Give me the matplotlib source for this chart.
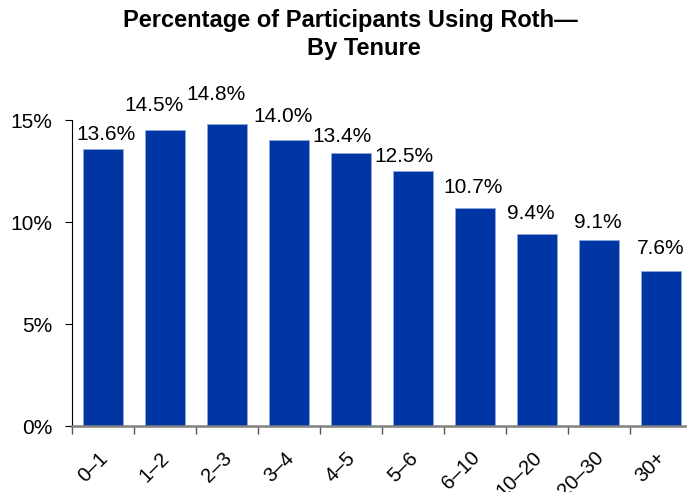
import matplotlib.pyplot as plt
from matplotlib.ticker import FuncFormatter
from matplotlib.transforms import ScaledTranslation

plt.rcParams['font.family'] = ['Liberation Sans', 'DejaVu Sans']

tenure = ["0–1", "1–2", "2–3", "3–4", "4–5", "5–6", "6–10", "10–20", "20–30", "30+"]
roth_pct = [13.6, 14.5, 14.8, 14.0, 13.4, 12.5, 10.7, 9.4, 9.1, 7.6]

# label nudges (pixels) so the value labels don't crowd each other
label_dx = [2.5, -11, -11, -6, -9, -9.5, -2, -6, -1, 0]
label_dy = [9, 19, 24, 18, 11, 9, 15, 15, 12, 17]

BLUE = "#0036A3"

fig = plt.figure(figsize=(6.87, 4.92), dpi=100)
ax = fig.add_axes([72 / 687, 66 / 492, (692 - 72) / 687, (426 - 120) / 492])

x = range(len(tenure))
ax.bar(x, roth_pct, width=0.66, color=BLUE, edgecolor="#8FA8E0", linewidth=0.6, clip_on=False)

for i, v in enumerate(roth_pct):
    ax.annotate(f"{v:.1f}%", (i, v), xytext=(label_dx[i], label_dy[i]),
                textcoords="offset pixels", ha="center", va="baseline", fontsize=15)

ax.set_xlim(-0.5, 9.5)
ax.set_ylim(0, 15)
ax.set_yticks([0, 5, 10, 15])
ax.yaxis.set_major_formatter(FuncFormatter(lambda v, p: f"{v:.0f}%"))
ax.tick_params(axis="y", labelsize=15, length=5, width=0.8, direction="out", colors="black", pad=9)

# ticks sit on category boundaries, labels under each bar
ax.set_xticks([i - 0.5 for i in x])
ax.set_xticklabels([])
ax.set_xticks(list(x), minor=True)
ax.set_xticklabels(tenure, minor=True, rotation=45, ha="right", va="top",
                   rotation_mode="anchor", fontsize=14.5)
ax.tick_params(axis="x", which="major", length=6, width=1, color="#555555")
ax.tick_params(axis="x", which="minor", length=0, pad=16)
shift = ScaledTranslation(-5 / 100, 0, fig.dpi_scale_trans)
for lbl in ax.get_xticklabels(minor=True):
    lbl.set_transform(lbl.get_transform() + shift)

ax.spines["top"].set_visible(False)
ax.spines["right"].set_visible(False)
ax.spines["left"].set_color("black")
ax.spines["left"].set_linewidth(0.8)
ax.spines["bottom"].set_color("#808080")
ax.spines["bottom"].set_linewidth(1.8)

fig.text(350 / 687, 1 - 21 / 492, "Percentage of Participants Using Roth—",
         ha="center", va="center", fontsize=17, fontweight="bold")
fig.text(364 / 687, 1 - 48 / 492, "By Tenure",
         ha="center", va="center", fontsize=17, fontweight="bold")

fig.savefig("out.png", dpi=100)
